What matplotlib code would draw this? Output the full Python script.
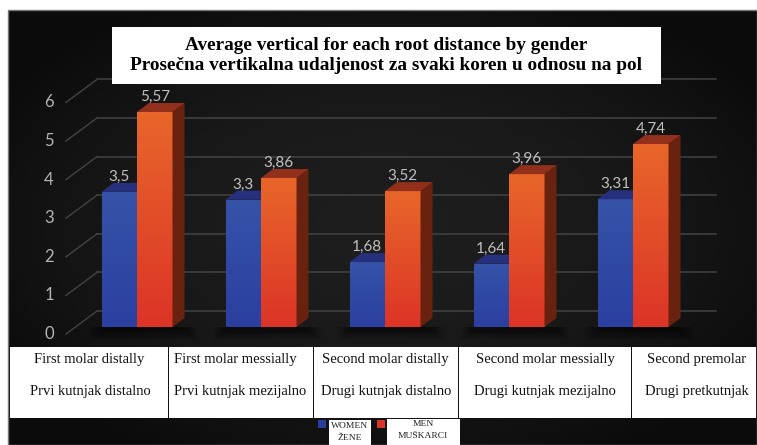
import matplotlib
matplotlib.use('Agg')
import matplotlib.pyplot as plt
import numpy as np
from matplotlib.patches import Rectangle, Polygon

# values
women = [3.5, 3.3, 1.68, 1.64, 3.31]
men = [5.57, 3.86, 3.52, 3.96, 4.74]
women_labels = ['3,5', '3,3', '1,68', '1,64', '3,31']
men_labels = ['5,57', '3,86', '3,52', '3,96', '4,74']
cat_en = ['First molar distally', 'First molar messially', 'Second molar distally',
          'Second molar messially', 'Second premolar']
cat_sr = ['Prvi kutnjak distalno', 'Prvi kutnjak mezijalno', 'Drugi kutnjak distalno',
          'Drugi kutnjak mezijalno', 'Drugi pretkutnjak']
cell_edges = [10, 168.5, 313.5, 458.5, 631.5, 757]
yticks = [0, 1, 2, 3, 4, 5, 6]

W, H = 757, 445
fig = plt.figure(figsize=(W / 100, H / 100), dpi=100, facecolor='white')
plt.rcParams['font.family'] = ['Liberation Serif', 'DejaVu Serif']


def fx(x):
    return x / W


def fy(y):
    return 1 - y / H


# axes covers the dark panel, scale: 124 px per group, 38.6 px per unit
ax = fig.add_axes([fx(8), fy(445), fx(749), (445 - 10) / H])
px_x = 124.0
px_y = 38.6
ax.set_xlim((8 - 137) / px_x, (757 - 137) / px_x)
ax.set_ylim((327 - 445) / px_y, (327 - 10) / px_y)
ax.axis('off')

# dark background with a slightly lighter middle
gx, gy = np.meshgrid(np.linspace(-1, 1, 200), np.linspace(-1, 1, 120))
bg = 0.115 - 0.07 * np.clip(gx ** 2 + gy ** 2, 0, 1.4) / 1.4
ax.imshow(bg, extent=[*ax.get_xlim(), *ax.get_ylim()], cmap='gray', vmin=0, vmax=1,
          aspect='auto', zorder=0)
fig.add_artist(Rectangle((fx(8), fy(445)), 749 / W, 435 / H, fill=False,
                         ec='#777777', lw=1.0, transform=fig.transFigure))

# depth of the 3d look, in data units
dep_x = 12 / px_x
dep_y = 9 / px_y
back_dy = 16 / px_y
w = 35.5 / px_x

# gridlines at the back wall plus the diagonal on the side wall
for v in yticks:
    yb = v + back_dy
    ax.plot([(97 - 137) / px_x, (716 - 137) / px_x], [yb, yb], color='#434343', lw=1.1, zorder=1)
    ax.plot([(66 - 137) / px_x, (97 - 137) / px_x], [v - 7 / px_y, yb], color='#434343', lw=1.0, zorder=1)
    ax.text((49 - 137) / px_x, v - 7 / px_y, str(v), color='#b4b4b4', fontsize=12,
            family=['Lato', 'DejaVu Sans'], ha='center', va='center', zorder=2)

# soft shadow on the floor below each group
for i in range(len(women)):
    for k in range(8):
        ax.add_patch(Rectangle((i - w - k * 0.014, -0.08 - k * 0.035), 2 * w + dep_x + k * 0.028,
                               0.08 + k * 0.035, color='black', alpha=0.07, lw=0, zorder=2))


def draw_bar(x0, val, top_col, bot_col, side_col, cap_col, label, z):
    cols = np.array([matplotlib.colors.to_rgb(top_col), matplotlib.colors.to_rgb(bot_col)])
    grad = np.linspace(0, 1, 64)[:, None, None] * (cols[1] - cols[0]) + cols[0]
    im = ax.imshow(grad, extent=[x0, x0 + w, 0, val], origin='upper', aspect='auto', zorder=z)
    bar = ax.bar(x0, val, w, align='edge', color='none', lw=0, zorder=z)[0]
    im.set_clip_path(bar)
    ax.add_patch(Polygon([(x0 + w, 0), (x0 + w + dep_x, dep_y), (x0 + w + dep_x, val + dep_y), (x0 + w, val)],
                         fc=side_col, lw=0, zorder=z))
    ax.add_patch(Polygon([(x0, val), (x0 + dep_x, val + dep_y), (x0 + w + dep_x, val + dep_y), (x0 + w, val)],
                         fc=cap_col, lw=0, zorder=z))
    ax.text(x0 + w / 2, val + 15 / px_y, label, color='#c0c0c0', fontsize=11,
            family=['Lato', 'DejaVu Sans'], ha='center', va='center', zorder=6)


for i in range(len(women)):
    draw_bar(i - w, women[i], '#3653a8', '#2b3fa0', '#1f2a70', '#27307c', women_labels[i], 3)
    draw_bar(i, men[i], '#e8662a', '#dc3427', '#6a2210', '#93301c', men_labels[i], 4)
ax.set_xlim((8 - 137) / px_x, (757 - 137) / px_x)
ax.set_ylim((327 - 445) / px_y, (327 - 10) / px_y)

# title box
fig.add_artist(Rectangle((fx(112), fy(84)), 549 / W, 57 / H, fc='white', ec='none', zorder=5))
fig.text(fx(386), fy(45), 'Average vertical for each root distance by gender', fontsize=13.85,
         fontweight='bold', color='black', ha='center', va='center', zorder=6)
fig.text(fx(386), fy(66), 'Prosečna vertikalna udaljenost za svaki koren u odnosu na pol', fontsize=13.85,
         fontweight='bold', color='black', ha='center', va='center', zorder=6)

# table under the chart
cx_en = [89, 235, 385.5, 545, 697]
cx_sr = [90, 240, 386, 545, 697]
for i in range(len(cat_en)):
    fig.add_artist(Rectangle((fx(cell_edges[i]), fy(418)), (cell_edges[i + 1] - cell_edges[i] - 1) / W, 71 / H,
                             fc='white', ec='none', zorder=5))
    fig.text(fx(cx_en[i]), fy(360), cat_en[i], fontsize=10.5, color='#111111', ha='center', va='center', zorder=6)
    fig.text(fx(cx_sr[i]), fy(391), cat_sr[i], fontsize=10.5, color='#111111', ha='center', va='center', zorder=6)

# legend pieces
fig.add_artist(Rectangle((fx(318), fy(428)), 8 / W, 8 / H, fc='#2a3c9e', ec='none', zorder=5))
fig.add_artist(Rectangle((fx(377), fy(428)), 8 / W, 8 / H, fc='#dc3427', ec='none', zorder=5))
fig.add_artist(Rectangle((fx(329), fy(445)), 42 / W, 25 / H, fc='white', ec='none', zorder=5))
fig.add_artist(Rectangle((fx(387), fy(445)), 73 / W, 26 / H, fc='white', ec='none', zorder=5))
fig.text(fx(350), fy(425.5), 'WOMEN', fontsize=6.8, color='#222222', ha='center', va='center', zorder=6)
fig.text(fx(350), fy(437.5), 'ŽENE', fontsize=6.8, color='#222222', ha='center', va='center', zorder=6)
fig.text(fx(423), fy(424.5), 'MEN', fontsize=6.8, color='#222222', ha='center', va='center', zorder=6)
fig.text(fx(423), fy(436.5), 'MUŠKARCI', fontsize=6.8, color='#222222', ha='center', va='center', zorder=6)

fig.savefig('out.png', dpi=100, facecolor='white')
